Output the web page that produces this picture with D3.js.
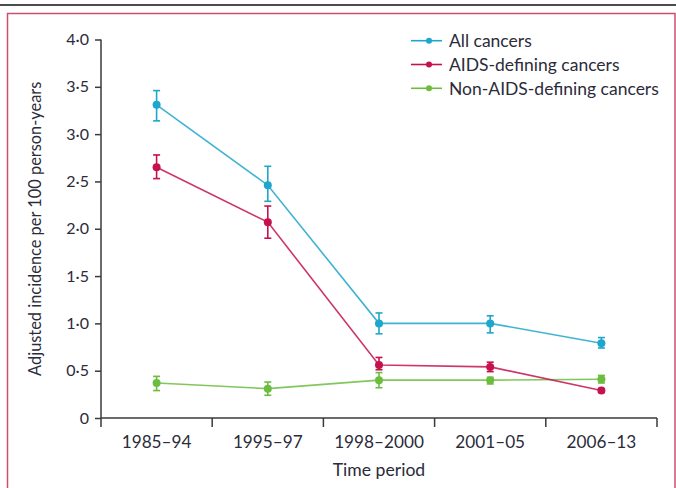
<!DOCTYPE html>
<html>
<head>
<meta charset="utf-8">
<script src="https://cdn.jsdelivr.net/npm/d3@7"></script>
<style>
  html, body { margin: 0; padding: 0; background: #fff; }
  svg { display: block; }
  text { font-family: Lato, "Open Sans", sans-serif; fill: #2b2b3a; }
</style>
</head>
<body>
<svg id="chart" width="676" height="488"></svg>
<script>
// Time periods on the x axis
const periods = ["1985–94", "1995–97", "1998–2000", "2001–05", "2006–13"];

// Adjusted incidence per 100 person-years, with 95% CI bounds
const allCancers     = [3.31, 2.46, 1.00, 1.00, 0.79];
const allCancersLo   = [3.14, 2.29, 0.89, 0.90, 0.74];
const allCancersHi   = [3.46, 2.66, 1.11, 1.08, 0.85];

const aidsDefining   = [2.65, 2.07, 0.56, 0.54, 0.29];
const aidsDefiningLo = [2.53, 1.90, 0.51, 0.49, 0.27];
const aidsDefiningHi = [2.78, 2.24, 0.64, 0.59, 0.31];

const nonAids        = [0.37, 0.31, 0.40, 0.40, 0.41];
const nonAidsLo      = [0.29, 0.24, 0.32, 0.36, 0.37];
const nonAidsHi      = [0.44, 0.38, 0.48, 0.43, 0.45];

const yTicks = [0, 0.5, 1.0, 1.5, 2.0, 2.5, 3.0, 3.5, 4.0];

const seriesNames  = ["All cancers", "AIDS-defining cancers", "Non-AIDS-defining cancers"];
const seriesColors = ["#1ea6cb", "#c5124d", "#6cbd3e"];

const series = [
  { name: seriesNames[0], color: seriesColors[0], v: allCancers,   lo: allCancersLo,   hi: allCancersHi },
  { name: seriesNames[1], color: seriesColors[1], v: aidsDefining, lo: aidsDefiningLo, hi: aidsDefiningHi },
  { name: seriesNames[2], color: seriesColors[2], v: nonAids,      lo: nonAidsLo,      hi: nonAidsHi }
];

const svg = d3.select("#chart");

// Page frame: rule at top and coloured panel border
svg.append("line").attr("x1", 0).attr("x2", 676).attr("y1", 5).attr("y2", 5)
  .attr("stroke", "#111").attr("stroke-width", 1.5);
svg.append("rect").attr("x", 7.5).attr("y", 13.5).attr("width", 667.5).attr("height", 490)
  .attr("fill", "none").attr("stroke", "#cc4f70").attr("stroke-width", 1.5);

const plotLeft = 101, plotRight = 657, plotTop = 39.5, plotBottom = 418;

const x = d3.scaleBand().domain(periods).range([plotLeft, plotRight]);
const y = d3.scaleLinear().domain([0, 4]).range([plotBottom, plotTop]);

const fmt = d => d === 0 ? "0" : d3.format(".1f")(d).replace(".", "·");

// Y axis
const yAxis = svg.append("g").attr("transform", `translate(${plotLeft},0)`)
  .call(d3.axisLeft(y).tickValues(yTicks).tickFormat(fmt).tickSize(6).tickPadding(6));
yAxis.select(".domain").remove();
yAxis.append("line").attr("x1", 0).attr("x2", 0).attr("y1", plotTop).attr("y2", plotBottom)
  .attr("stroke", "#3a3a3a").attr("stroke-width", 1.5);
yAxis.selectAll(".tick line").attr("stroke", "#3a3a3a").attr("stroke-width", 1.5);
yAxis.selectAll(".tick text").attr("font-size", 16).attr("fill", "#2b2b3a")
  .style("font-family", "Lato, 'Open Sans', sans-serif");

// X axis: ticks at period boundaries, labels centred in each band
const xg = svg.append("g").attr("transform", `translate(0,${plotBottom})`);
xg.append("line").attr("x1", plotLeft).attr("x2", plotRight).attr("y1", 0).attr("y2", 0)
  .attr("stroke", "#3a3a3a").attr("stroke-width", 1.5);
const boundaries = periods.map(p => x(p)).concat([x(periods[periods.length - 1]) + x.bandwidth()]);
xg.selectAll("line.b").data(boundaries).join("line").attr("class", "b")
  .attr("x1", d => d).attr("x2", d => d).attr("y1", 0).attr("y2", 9)
  .attr("stroke", "#3a3a3a").attr("stroke-width", 1.5);
xg.selectAll("text.lab").data(periods).join("text").attr("class", "lab")
  .attr("x", d => x(d) + x.bandwidth() / 2).attr("y", 30)
  .attr("text-anchor", "middle").attr("font-size", 17.2).text(d => d);

svg.append("text").attr("x", x(periods[2]) + x.bandwidth() / 2).attr("y", 476)
  .attr("text-anchor", "middle").attr("font-size", 17.6).text("Time period");

svg.append("text").attr("transform", `translate(41,${(plotTop + plotBottom) / 2}) rotate(-90)`)
  .attr("text-anchor", "middle").attr("font-size", 16.4)
  .text("Adjusted incidence per 100 person-years");

const cx = p => x(p) + x.bandwidth() / 2;
const line = d3.line().x(d => cx(d.p)).y(d => y(d.v));

// Draw series back-to-front: green, red, blue
[2, 1, 0].forEach(i => {
  const s = series[i];
  const pts = periods.map((p, k) => ({ p, v: s.v[k], lo: s.lo[k], hi: s.hi[k] }));
  const g = svg.append("g");
  g.append("path").datum(pts).attr("d", line).attr("fill", "none")
    .attr("stroke", s.color).attr("stroke-width", 1.6).attr("stroke-opacity", 0.85);
  const eb = g.selectAll("g.eb").data(pts).join("g").attr("class", "eb");
  eb.append("line").attr("x1", d => cx(d.p)).attr("x2", d => cx(d.p))
    .attr("y1", d => y(d.lo)).attr("y2", d => y(d.hi))
    .attr("stroke", s.color).attr("stroke-width", 1.6);
  ["lo", "hi"].forEach(k => {
    eb.append("line").attr("x1", d => cx(d.p) - 3.5).attr("x2", d => cx(d.p) + 3.5)
      .attr("y1", d => y(d[k])).attr("y2", d => y(d[k]))
      .attr("stroke", s.color).attr("stroke-width", 1.6);
  });
  eb.append("circle").attr("cx", d => cx(d.p)).attr("cy", d => y(d.v)).attr("r", 4)
    .attr("fill", s.color);
});

// Legend
const lg = svg.append("g");
series.forEach((s, i) => {
  const yy = 40.7 + i * 23.8;
  lg.append("line").attr("x1", 411).attr("x2", 442).attr("y1", yy).attr("y2", yy)
    .attr("stroke", s.color).attr("stroke-width", 1.6);
  lg.append("circle").attr("cx", 429).attr("cy", yy).attr("r", 3).attr("fill", s.color);
  lg.append("text").attr("x", 449).attr("y", yy + 6.5).attr("font-size", 17.5).text(s.name);
});
</script>
</body>
</html>
